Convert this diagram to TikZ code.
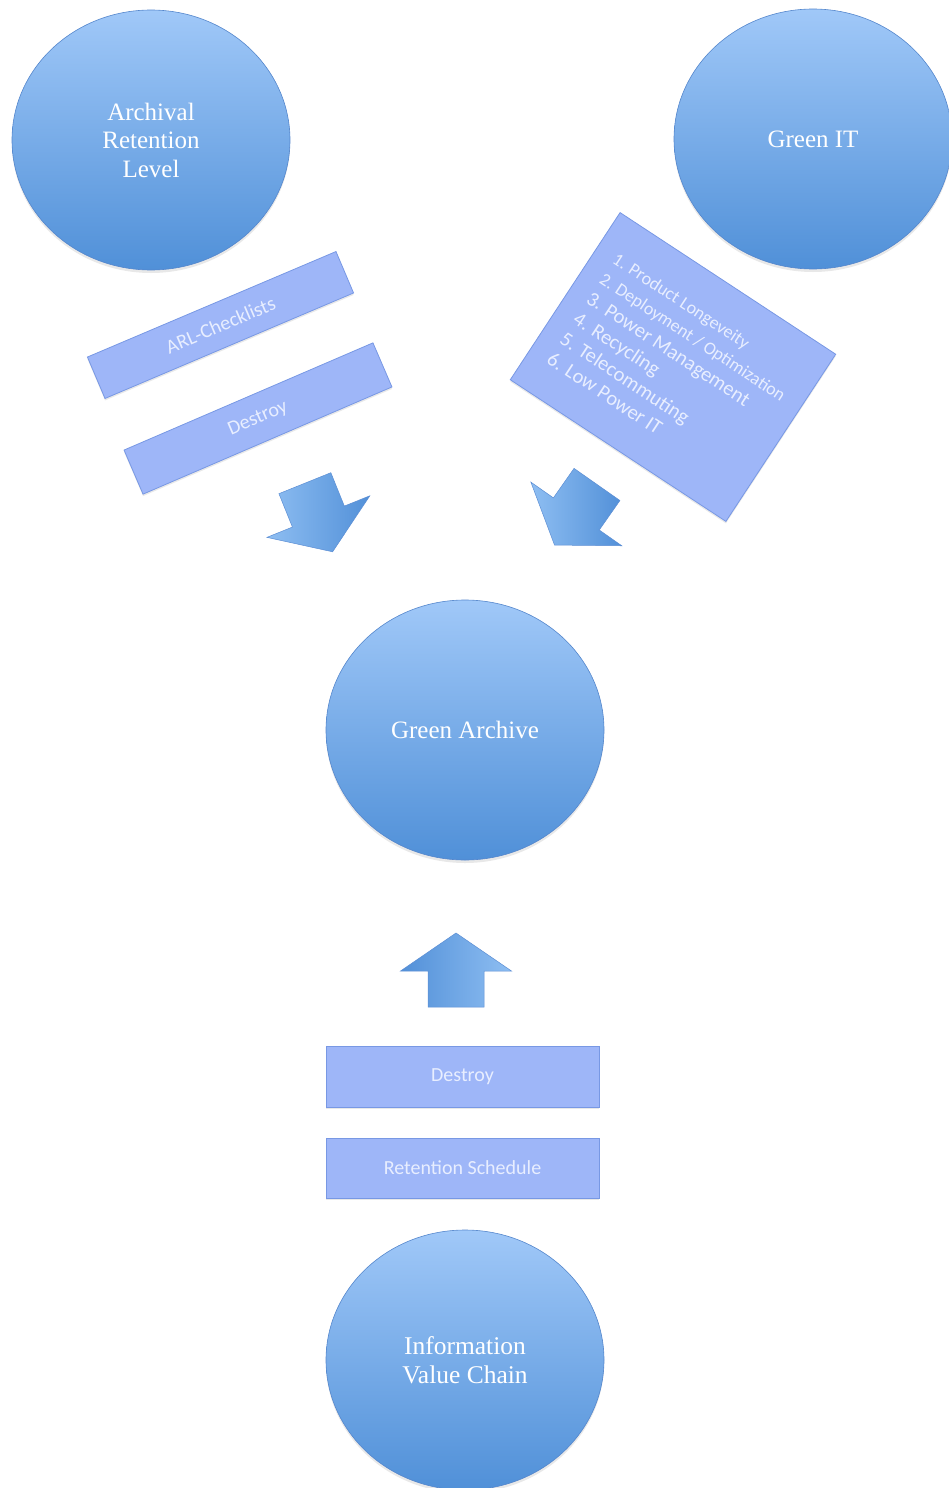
\documentclass[tikz,border=0pt]{standalone}
\usepackage{fontspec}
\setmainfont{Liberation Serif}
\newfontfamily\boxfont{Carlito}
\usetikzlibrary{shapes.geometric,shadows}
\definecolor{circtop}{RGB}{160,200,248}
\definecolor{circbot}{RGB}{80,144,216}
\definecolor{circline}{RGB}{84,134,204}
\definecolor{boxfill}{RGB}{158,182,248}
\definecolor{boxline}{RGB}{120,152,228}
\definecolor{boxtext}{RGB}{232,238,255}
\definecolor{arrlight}{RGB}{142,190,242}
\definecolor{arrdark}{RGB}{82,144,216}
\definecolor{arrline}{RGB}{92,142,212}
\begin{document}
\begin{tikzpicture}[x=1pt,y=-1pt,
  circ/.style={ellipse, draw=circline, line width=0.6pt, top color=circtop, bottom color=circbot,
    minimum width=278pt, minimum height=260pt, inner sep=0pt, align=center, text=white,
    font=\fontsize{25}{28.5}\selectfont,
    drop shadow={opacity=0.18, shadow xshift=0pt, shadow yshift=-3pt}},
  rbox/.style={rectangle, draw=boxline, line width=0.8pt, fill=boxfill, inner sep=0pt,
    text=boxtext, font=\boxfont\fontsize{20}{24}\selectfont,
    drop shadow={opacity=0.18, shadow xshift=0pt, shadow yshift=-2pt}},
  barrow/.style={draw=arrline, line width=0.5pt}]

\useasboundingbox (0,0) rectangle (949,1488);

% circles
\node[circ] (arl) at (151,140) {Archival\\Retention\\Level};
\node[circ] (greenit) at (813,139) {Green IT};
\node[circ] (archive) at (465,730) {Green Archive};
\node[circ, font=\fontsize{25.5}{29}\selectfont] (ivc) at (465,1360) {Information\\Value Chain};

% left rotated boxes
\node[rbox, rotate=23, minimum width=270pt, minimum height=45pt] (checklists) at (220.5,325) {ARL-Checklists};
\node[rbox, rotate=23.3, minimum width=271pt, minimum height=48pt] (destroyl) at (258,418.5) {Destroy};

% Green IT list box
\node[rbox, rotate=-33.3, minimum width=258pt, minimum height=200pt, align=left] (gitlist) at (673,367)
  {{\fontsize{18}{24}\selectfont 1. Product Longeveity}\\
   {\fontsize{18}{24}\selectfont 2. Deployment / Optimization}\\
   {\fontsize{20.5}{24}\selectfont 3. Power Management}\\
   {\fontsize{20.5}{24}\selectfont 4. Recycling}\\
   {\fontsize{20.5}{24}\selectfont 5. Telecommuting}\\
   {\fontsize{20.5}{24}\selectfont 6. Low Power IT}};

% bottom boxes
\node[rbox, minimum width=273pt, minimum height=61pt] (destroyb) at (462.5,1076.5) {Destroy};
\node[rbox, minimum width=273pt, minimum height=60pt] (retention) at (462.5,1168) {Retention Schedule};

% block arrows
\path[barrow, left color=arrlight, right color=arrdark, shift={(318.75,517.5)}, rotate=22]
  (0,37) -- (55.5,-1) -- (28,-1) -- (28,-37) -- (-28,-37) -- (-28,-1) -- (-55.5,-1) -- cycle;
\path[barrow, left color=arrlight, right color=arrdark, shift={(575.75,514.75)}, rotate=-35]
  (0,37) -- (55.5,-1) -- (28,-1) -- (28,-37) -- (-28,-37) -- (-28,-1) -- (-55.5,-1) -- cycle;
\path[barrow, left color=arrdark, right color=arrlight, shift={(456,970)}]
  (0,-37) -- (55.5,1) -- (28,1) -- (28,37) -- (-28,37) -- (-28,1) -- (-55.5,1) -- cycle;
\end{tikzpicture}
\end{document}
